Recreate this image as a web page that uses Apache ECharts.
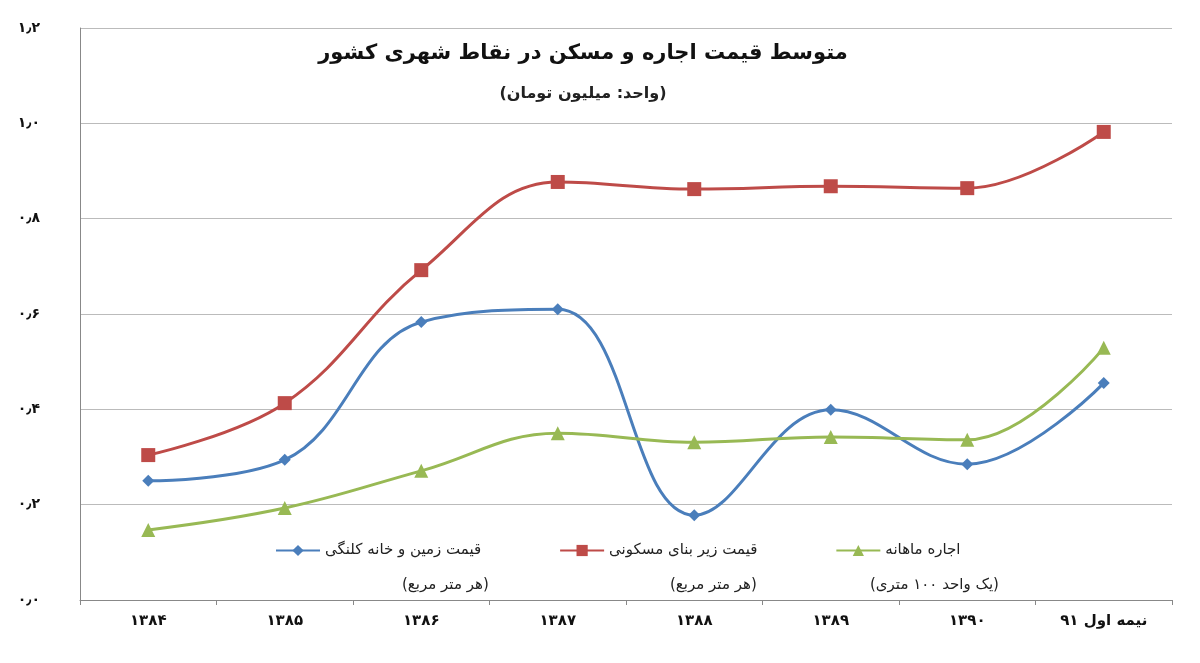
<!DOCTYPE html>
<html><head><meta charset="utf-8">
<script src="https://cdn.jsdelivr.net/npm/echarts@6/dist/echarts.min.js"></script>
<style>body{margin:0;background:#fff}#c{width:1200px;height:663px}</style>
</head><body><div id="c"></div>
<script>
var categories = ['۱۳۸۴', '۱۳۸۵', '۱۳۸۶', '۱۳۸۷', '۱۳۸۸', '۱۳۸۹', '۱۳۹۰', 'نیمه اول ۹۱'];
var landPrice = [0.25, 0.294, 0.583, 0.61, 0.178, 0.399, 0.285, 0.455];
var buildPrice = [0.304, 0.413, 0.692, 0.877, 0.862, 0.868, 0.864, 0.982];
var monthlyRent = [0.147, 0.193, 0.271, 0.35, 0.331, 0.342, 0.336, 0.529];
var yLabels = {0: '۰٫۰', 0.2: '۰٫۲', 0.4: '۰٫۴', 0.6: '۰٫۶', 0.8: '۰٫۸', 1: '۱٫۰', 1.2: '۱٫۲'};

var font = 'DejaVu Sans';
var option = {
    backgroundColor: '#fff',
    textStyle: { fontFamily: font },
    title: {
        text: 'متوسط قیمت اجاره و مسکن در نقاط شهری کشور',
        subtext: '(واحد: میلیون تومان)',
        left: 578, top: 38, textAlign: 'center',
        textStyle: { fontSize: 21, fontWeight: 'bold', color: '#111' },
        subtextStyle: { fontSize: 16, fontWeight: 'bold', color: '#222' },
        itemGap: 22
    },
    legend: {
        bottom: 100, left: 270, itemGap: 78, itemWidth: 44,
        textStyle: { fontSize: 15, color: '#222' },
        data: ['قیمت زمین و خانه کلنگی', 'قیمت زیر بنای مسکونی', 'اجاره ماهانه']
    },
    graphic: [
        { type: 'text', left: 402, top: 578, style: { text: '(هر متر مربع)', font: '15px DejaVu Sans', fill: '#222' } },
        { type: 'text', left: 670, top: 578, style: { text: '(هر متر مربع)', font: '15px DejaVu Sans', fill: '#222' } },
        { type: 'text', left: 870, top: 578, style: { text: '(یک واحد ۱۰۰ متری)', font: '15px DejaVu Sans', fill: '#222' } }
    ],
    grid: { left: 80, right: 28, top: 28, bottom: 63 },
    xAxis: {
        type: 'category', data: categories,
        axisLine: { lineStyle: { color: '#888' } },
        axisTick: { show: true, lineStyle: { color: '#888' } },
        axisLabel: { fontSize: 15, fontWeight: 'bold', color: '#111', margin: 14 }
    },
    yAxis: {
        type: 'value', min: 0, max: 1.2, interval: 0.2,
        axisLine: { show: true, lineStyle: { color: '#888' } },
        splitLine: { lineStyle: { color: '#bbb' } },
        axisLabel: {
            fontSize: 14, fontWeight: 'bold', color: '#111', margin: 40,
            formatter: function (v) { return yLabels[Math.round(v * 10) / 10]; }
        }
    },
    series: [
        { name: 'قیمت زمین و خانه کلنگی', type: 'line', smooth: 0.4, data: landPrice,
          symbol: 'diamond', symbolSize: 12, lineStyle: { width: 3, color: '#4a7ebb' }, itemStyle: { color: '#4a7ebb' } },
        { name: 'قیمت زیر بنای مسکونی', type: 'line', smooth: 0.4, data: buildPrice,
          symbol: 'rect', symbolSize: 14, lineStyle: { width: 3, color: '#be4b48' }, itemStyle: { color: '#be4b48' } },
        { name: 'اجاره ماهانه', type: 'line', smooth: 0.4, data: monthlyRent,
          symbol: 'triangle', symbolSize: 14, lineStyle: { width: 3, color: '#98b954' }, itemStyle: { color: '#98b954' } }
    ]
};
echarts.init(document.getElementById('c')).setOption(option);
</script></body></html>
